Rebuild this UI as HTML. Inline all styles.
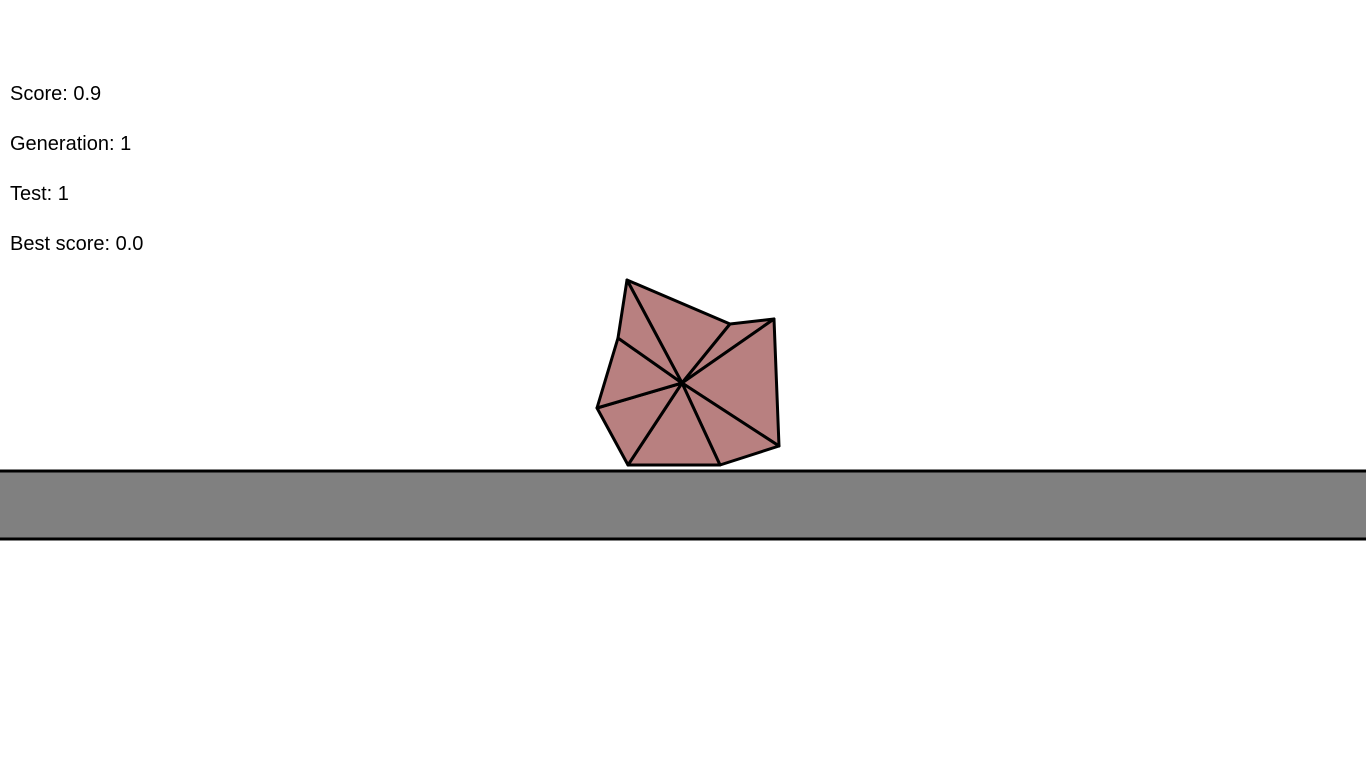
<!DOCTYPE html>
<html>
<head>
<meta charset="utf-8">
<style>
  html,body{margin:0;padding:0;background:#fff;width:1366px;height:768px;overflow:hidden;}
  .info{position:absolute;left:10px;font-family:"Liberation Sans",Arial,sans-serif;font-size:20px;color:#000;line-height:20px;}
  svg{position:absolute;left:0;top:0;}
</style>
</head>
<body>
<svg width="1366" height="768">
  <rect x="-5" y="471" width="1376" height="68" fill="#808080" stroke="#000" stroke-width="3"/>
  <g id="creature"></g>
</svg>
<div class="info" style="top:84px">Score: 0.9</div>
<div class="info" style="top:134px">Generation: 1</div>
<div class="info" style="top:184px">Test: 1</div>
<div class="info" style="top:234px">Best score: 0.0</div>
<script>
const centerX = 682, centerY = 383;
const vertexX = [627, 730, 774, 779, 720, 628, 597, 618];
const vertexY = [280, 324, 319, 446, 465, 465, 408, 338];
const NS = "http://www.w3.org/2000/svg";
const g = document.getElementById('creature');
for (let i = 0; i < vertexX.length; i++) {
  const j = (i + 1) % vertexX.length;
  const p = document.createElementNS(NS, 'polygon');
  p.setAttribute('points', centerX + ',' + centerY + ' ' + vertexX[i] + ',' + vertexY[i] + ' ' + vertexX[j] + ',' + vertexY[j]);
  p.setAttribute('fill', '#b88080');
  p.setAttribute('stroke', '#000');
  p.setAttribute('stroke-width', '3');
  p.setAttribute('stroke-linejoin', 'round');
  
  
  g.appendChild(p);
}
</script>
</body>
</html>
